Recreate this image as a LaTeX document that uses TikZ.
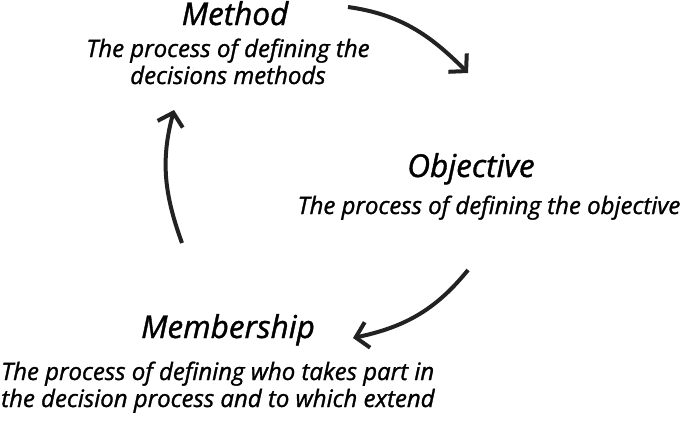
\documentclass[tikz,border=0pt]{standalone}
\usepackage{fontspec}
\setmainfont{Open Sans}[ItalicFeatures={FakeBold=1.2}]
\usetikzlibrary{arrows.meta}
\definecolor{ink}{HTML}{222222}
\begin{document}
\begin{tikzpicture}[x=1pt,y=-1pt,
  title/.style={font=\itshape\fontsize{31.5}{32}\selectfont, inner sep=0pt, text=black},
  body/.style={font=\itshape\fontsize{24}{27}\selectfont, inner sep=0pt, text=black},
  cyc/.style={line width=4pt, draw=ink, -{Straight Barb[length=12pt,width=26pt]}}]
\useasboundingbox (0,0) rectangle (685,421);
% Method
\node[title, anchor=base] (mt) at (235,25) {Method};
\node[body, anchor=base] (mb1) at (228,57) {The process of defining the};
\node[body, anchor=base] (mb2) at (228,84) {decisions methods};
% Objective
\node[title, anchor=base] (ot) at (471,177) {Objective};
\node[body, anchor=base] (ob1) at (489,214) {The process of defining the objective};
% Membership
\node[title, anchor=base] (bt) at (228,338) {Membership};
\node[body, anchor=base west] (bb1) at (1,380) {The process of defining who takes part in};
\node[body, anchor=base west] (bb2) at (1,407) {the decision process and to which extend};
% arrow ends
\coordinate (a1s) at (348,7);
\coordinate (a1e) at (468,73);
\coordinate (a2s) at (468,270);
\coordinate (a2e) at (353,338);
\coordinate (a3s) at (182,243);
\coordinate (a3e) at (174,110);
\draw[cyc] (a1s) to[out=-8,in=135] (a1e);
\draw[cyc] (a2s) to[out=231,in=12] (a2e);
\draw[cyc] (a3s) to[out=110,in=-105] (a3e);
\end{tikzpicture}
\end{document}
